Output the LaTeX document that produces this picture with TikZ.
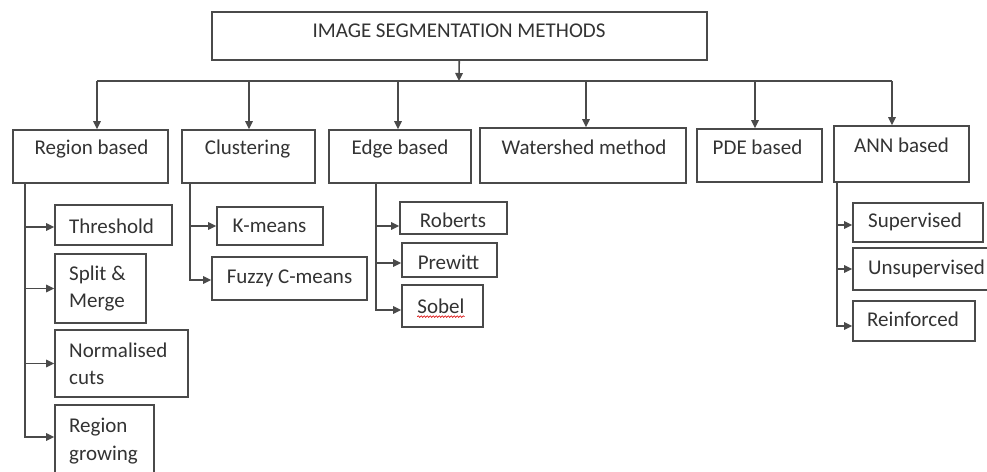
\documentclass[tikz,border=0pt]{standalone}
\usepackage{fontspec}
\setmainfont{Carlito}
\usetikzlibrary{arrows.meta,decorations.pathmorphing}
\definecolor{boxgray}{HTML}{4A4A4A}
\definecolor{txtgray}{HTML}{333333}
\begin{document}
\begin{tikzpicture}[x=1pt,y=-1pt,
  box/.style={draw=boxgray, line width=1.6pt, rectangle, inner sep=0pt},
  lbl/.style={text=txtgray, font=\fontsize{21}{27.5}\selectfont, inner sep=0pt, align=left},
  link/.style={draw=boxgray, line width=1.6pt, -{Triangle[length=8pt,width=7.5pt]}},
  busline/.style={draw=boxgray, line width=1.6pt}]

\useasboundingbox (0,0) rectangle (987,471);
\fill[white] (0,0) rectangle (987,471);
\clip (0,0) rectangle (987,471);

% root
\node[box, minimum width=495pt, minimum height=48pt] (root) at (459.5,36) {};
\node[lbl] (rootT) at (459,31) {IMAGE SEGMENTATION METHODS};

% first level
\node[box, minimum width=155pt, minimum height=53pt] (rb) at (90.5,156.5) {};
\node[lbl] (rbT) at (91.5,149) {Region based};
\node[box, minimum width=133pt, minimum height=53pt] (cl) at (248.5,156.5) {};
\node[lbl] (clT) at (247.5,149) {Clustering};
\node[box, minimum width=142pt, minimum height=53pt] (eb) at (400,156.5) {};
\node[lbl] (ebT) at (400,149) {Edge based};
\node[box, minimum width=206pt, minimum height=55pt] (ws) at (583,155.5) {};
\node[lbl] (wsT) at (584,147) {Watershed method};
\node[box, minimum width=125pt, minimum height=53pt] (pde) at (759.5,155.5) {};
\node[lbl] (pdeT) at (757.5,147) {PDE based};
\node[box, minimum width=135pt, minimum height=56pt] (ann) at (901.5,154) {};
\node[lbl] (annT) at (901.5,145) {ANN based};

% bus from the root to the first level
\coordinate (bus) at (459,81);
\coordinate (b1) at (97,81);
\coordinate (b2) at (249,81);
\coordinate (b3) at (398,81);
\coordinate (b4) at (586,81);
\coordinate (b5) at (755,81);
\coordinate (b6) at (892,81);
\draw[link] (root) -- (bus);
\draw[busline] (b1) -- (b6);
\draw[link] (b1) -- (b1 |- rb.north);
\draw[link] (b2) -- (b2 |- cl.north);
\draw[link] (b3) -- (b3 |- eb.north);
\draw[link] (b4) -- (b4 |- ws.north);
\draw[link] (b5) -- (b5 |- pde.north);
\draw[link] (b6) -- (b6 |- ann.north);

% region based
\node[box, minimum width=117pt, minimum height=40pt] (th) at (113.5,225) {};
\node[lbl] (thT) at (111.5,226) {Threshold};
\node[box, minimum width=91pt, minimum height=69pt] (sm) at (100.5,288.5) {};
\node[lbl, anchor=west] (smT) at (69,288.5) {Split \&\\Merge};
\node[box, minimum width=133pt, minimum height=67pt] (nc) at (121.5,363.5) {};
\node[lbl, anchor=west] (ncT) at (69,364) {Normalised\\cuts};
\node[box, minimum width=99pt, minimum height=74pt] (rg) at (104.5,442) {};
\node[lbl, anchor=west] (rgT) at (69,441) {Region\\growing};
\coordinate (rbv) at ([xshift=13pt]rb.south west);
\draw[link] (rbv) |- ([yshift=-2pt]th.west);
\draw[link] (rbv) |- (sm.west);
\draw[link] (rbv) |- (nc.west);
\draw[link] (rbv) |- ([yshift=5pt]rg.west);

% clustering
\node[box, minimum width=106pt, minimum height=38pt] (km) at (270,226) {};
\node[lbl] (kmT) at (269.5,226) {K-means};
\node[box, minimum width=155pt, minimum height=43pt] (fc) at (289.5,278.5) {};
\node[lbl] (fcT) at (289.5,278.5) {Fuzzy C-means};
\coordinate (clv) at ([xshift=9pt]cl.south west);
\draw[link] (clv) |- (km.west);
\draw[link] (clv) |- ([yshift=-1.5pt]fc.west);

% edge based
\node[box, minimum width=107pt, minimum height=32pt] (ro) at (453.5,218) {};
\node[lbl] (roT) at (453,220) {Roberts};
\node[box, minimum width=95pt, minimum height=34pt] (pr) at (449.5,260) {};
\node[lbl] (prT) at (448.5,262) {Prewitt};
\node[box, minimum width=81pt, minimum height=42pt] (so) at (442.5,306) {};
\node[lbl] (soT) at (441,306) {Sobel};
\draw[red!85!black, line width=0.6pt, decorate,
      decoration={snake, amplitude=0.8pt, segment length=3pt}]
  ([yshift=-3pt]soT.south west) -- ([yshift=-3pt]soT.south east);
\coordinate (ebv) at ([xshift=48pt]eb.south west);
\draw[link] (ebv) |- ([yshift=-8pt]ro.west);
\draw[link] (ebv) |- ([yshift=-3pt]pr.west);
\draw[link] (ebv) |- ([yshift=-4pt]so.west);

% ANN based
\node[box, minimum width=130pt, minimum height=39pt] (su) at (918,222.5) {};
\node[lbl] (suT) at (915,222) {Supervised};
\node[box, minimum width=139pt, minimum height=42pt] (un) at (922.5,269) {};
\node[lbl, anchor=west] (unT) at (868,269) {Unsupervised};
\node[box, minimum width=122pt, minimum height=40pt] (re) at (914,321) {};
\node[lbl] (reT) at (913,319) {Reinforced};
\coordinate (annv) at ([xshift=4pt]ann.south west);
\draw[link] (annv) |- ([yshift=-2.5pt]su.west);
\draw[link] (annv) |- (un.west);
\draw[link] (annv) |- ([yshift=-5pt]re.west);

\end{tikzpicture}
\end{document}
